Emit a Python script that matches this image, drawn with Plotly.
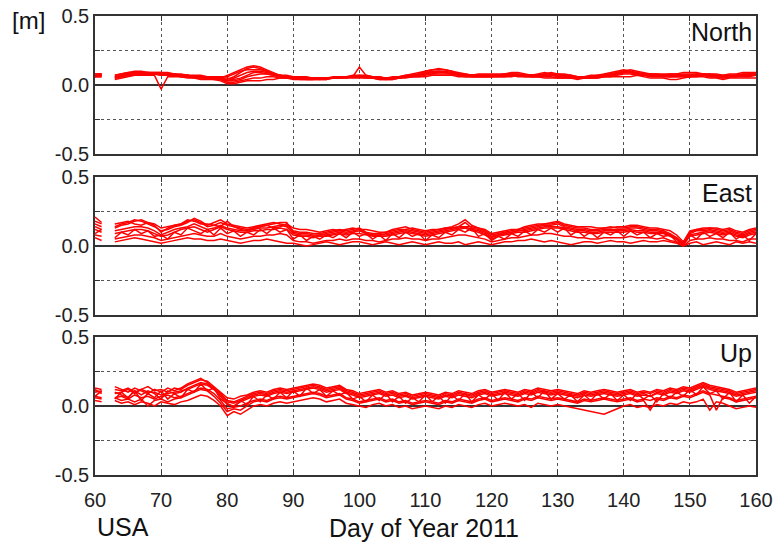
import plotly.graph_objects as go
from plotly.subplots import make_subplots

N = None
# Day of year 2011 (day 62 missing)
days = list(range(60, 161))

# Displacements in cm, one list per station, days 60..160
north = [
    [8,8,N,6,7,8,9,9,9,8, 7,8,8,7,7,6,6,6,5,5, 4,6,9,12,13,12,10,8,7,6, 6,5,5,5,4,5,5,6,6,6,
     7,6,6,5,5,5,6,7,7,8, 10,11,12,11,10,8,7,7,7,7, 7,7,8,8,7,7,7,8,9,8, 7,6,6,6,6,7,7,8,9,10,
     11,10,9,8,8,7,7,8,8,7, 7,8,8,7,6,6,7,7,8,8, 8],
    [6,6,N,4,5,6,7,7,7,7, -3,6,6,6,5,5,4,4,4,3, 1,1,2,3,3,3,4,4,5,5, 5,4,4,4,4,4,5,5,5,5,
     5,5,5,4,4,5,5,6,6,6, 6,7,7,7,7,6,6,6,6,6, 6,6,6,7,6,6,6,6,6,6, 5,5,5,5,5,5,5,6,6,6,
     6,6,7,6,5,5,5,4,4,5, 6,6,6,5,5,4,5,5,5,5, 5],
    [7,8,N,7,8,9,9,9,9,9, 9,8,8,7,7,6,6,5,5,5, 7,9,11,13,14,13,11,9,7,6, 5,5,5,5,5,5,6,6,6,6,
     13,7,6,6,5,5,6,6,7,8, 9,10,10,10,9,8,8,7,7,7, 7,7,8,9,9,8,7,7,8,8, 8,8,7,6,6,6,6,7,8,9,
     10,11,10,9,8,8,8,8,8,9, 9,9,8,8,8,7,8,8,9,9, 9],
    [6,7,N,5,6,7,7,8,8,8, 8,7,7,6,6,6,5,5,4,4, 3,3,4,6,7,8,8,7,6,5, 5,5,4,4,4,4,5,5,5,6,
     6,6,5,5,4,4,5,5,6,6, 7,8,8,8,8,7,6,6,6,6, 6,6,6,6,7,7,6,6,5,5, 5,5,5,4,5,5,5,6,6,7,
     8,8,7,7,6,6,6,6,6,6, 6,7,7,6,6,5,6,6,6,6, 7],
    [7,7,N,5,7,8,8,8,9,8, 8,8,7,7,7,6,6,5,5,4, 2,2,3,4,5,5,6,6,5,5, 4,4,4,4,5,5,5,5,6,6,
     6,5,5,4,4,4,5,6,6,7, 8,9,9,9,8,7,7,6,6,6, 6,7,7,7,7,6,6,6,7,7, 6,6,5,5,5,5,6,6,7,8,
     9,9,8,7,7,7,6,6,7,7, 7,7,7,7,7,6,6,7,7,8, 8],
    [8,8,N,7,8,9,10,10,9,9, 9,9,8,8,7,7,7,6,6,6, 6,8,10,11,11,11,10,8,7,7, 6,6,6,5,5,5,5,6,6,7,
     7,7,6,6,5,6,6,7,8,9, 10,11,11,11,10,9,8,7,8,8, 8,8,8,8,8,7,7,7,8,9, 8,7,7,6,6,6,7,7,8,9,
     10,10,9,8,8,8,7,7,7,8, 8,8,8,8,7,7,7,7,8,8, 8],
    [6,6,N,5,6,7,7,7,8,8, 7,7,7,6,6,5,5,5,5,5, 5,4,5,7,9,9,8,7,6,6, 5,5,5,5,5,5,5,5,6,6,
     6,6,6,5,5,5,5,6,7,7, 9,9,10,9,8,8,7,7,7,7, 7,7,7,7,7,7,7,7,7,7, 7,6,6,6,5,6,6,7,7,8,
     9,9,8,8,7,7,7,7,7,7, 7,7,7,7,6,6,6,7,7,7, 7],
    [7,7,N,6,7,8,8,8,8,8, 8,8,7,7,6,6,6,5,5,5, 3,5,7,9,10,10,9,8,7,6, 6,5,5,5,5,5,5,6,6,6,
     6,6,6,5,5,5,6,6,7,7, 8,8,9,9,8,8,7,7,7,7, 7,7,7,8,8,7,7,7,7,7, 7,7,6,6,6,6,6,7,7,8,
     9,9,8,7,7,7,7,6,6,6, 6,6,7,6,6,6,6,6,7,7, 7],
]

east = [
    [18,16,N,14,16,17,19,18,16,14, 11,12,14,15,17,20,18,15,17,19, 16,15,14,13,14,15,16,17,16,15,
     11,10,10,9,9,10,11,12,11,12, 13,10,9,9,10,12,13,14,12,11, 10,11,12,13,14,16,19,15,13,11,
     8,9,10,11,12,13,14,15,16,16, 17,15,14,13,13,12,12,13,14,13, 13,14,14,13,12,12,11,9,6,2,
     10,12,12,13,12,11,12,10,9,11, 12],
    [6,4,N,3,4,5,6,5,4,3, 2,3,4,5,6,5,5,4,4,5, 4,3,2,3,4,4,5,4,3,2, 2,1,0,1,2,3,2,1,2,3,
     3,2,1,2,3,2,1,2,3,2, 1,2,3,2,2,3,1,2,3,2, 1,2,3,3,4,4,5,4,3,4, 3,2,1,2,3,3,2,3,4,3,
     3,2,3,4,3,3,4,3,2,0, 2,3,1,2,3,2,1,3,2,3, 2],
    [14,12,N,11,12,13,14,14,13,11, 8,10,12,13,14,16,14,12,13,15, 13,12,11,11,12,13,13,14,15,14,
     9,8,8,7,8,8,9,10,9,10, 11,9,8,8,8,9,10,11,10,9, 8,9,10,11,12,13,14,12,11,9,
     6,8,9,10,11,11,12,13,14,14, 14,13,12,11,11,10,10,11,11,11, 11,12,11,11,10,10,10,8,5,1,
     8,9,10,11,10,9,10,8,7,9, 10],
    [9,12,N,6,10,8,12,9,11,7, 8,5,10,8,13,11,9,12,8,13, 9,11,7,10,8,12,9,13,10,12,
     5,8,4,7,5,8,6,9,6,10, 7,9,5,8,4,9,6,10,7,9, 4,8,6,10,8,12,10,13,7,9,
     4,7,5,9,7,11,8,12,10,13, 10,13,8,11,7,10,6,10,8,11, 7,11,8,10,6,9,7,8,3,2,
     8,5,10,7,9,6,10,5,8,4, 9],
    [21,17,N,16,17,18,16,15,17,16, 13,14,15,16,19,18,16,16,15,14, 18,14,12,11,13,14,15,13,14,16,
     13,12,12,11,10,11,12,11,12,13, 12,12,11,10,10,11,12,12,13,12, 11,12,12,13,13,14,14,14,13,12,
     9,10,11,12,12,14,15,16,16,17, 18,16,15,14,14,14,13,13,13,14, 14,15,15,14,13,13,12,11,8,3,
     11,12,13,13,13,12,13,11,10,12, 13],
    [8,7,N,5,6,7,8,8,7,6, 4,5,6,7,8,9,8,7,7,9, 7,6,5,6,7,7,8,8,9,8, 4,3,3,2,3,4,4,5,4,5,
     5,4,4,3,4,5,5,6,5,5, 4,5,5,6,7,8,8,7,6,5, 3,4,5,6,6,7,8,8,9,9, 8,7,7,6,6,5,5,6,6,6,
     6,7,6,6,6,5,6,4,3,0, 4,5,5,6,5,5,4,4,3,5, 5],
    [12,10,N,9,10,11,12,12,11,9, 7,8,10,12,13,14,12,10,12,14, 12,11,10,10,11,11,12,12,13,12,
     8,7,7,6,7,7,8,9,8,9, 9,8,7,7,7,8,9,10,9,8, 7,8,9,10,11,12,13,11,10,8,
     5,7,8,9,10,10,11,12,13,13, 13,12,11,10,10,9,9,10,10,10, 10,11,10,10,9,9,9,7,5,1,
     7,8,9,10,9,8,9,7,6,8, 9],
    [16,14,N,13,15,16,18,19,17,15, 10,13,15,16,18,19,17,14,15,17, 15,14,13,12,13,14,15,16,17,17,
     10,9,9,8,8,9,10,11,10,11, 12,9,8,8,9,10,11,12,11,10, 9,10,11,12,13,14,17,13,12,10,
     7,8,9,10,11,12,13,14,15,15, 16,14,13,12,12,11,11,12,12,12, 12,13,13,12,11,11,10,8,5,1,
     9,11,11,12,11,10,11,9,8,10, 11],
]

up = [
    [13,12,N,12,11,13,10,12,14,11, 12,10,13,12,15,17,19,18,14,10, 6,5,7,8,10,11,10,12,13,12,
     13,14,15,16,15,13,14,15,12,11, 9,10,11,12,10,11,9,10,8,9, 10,9,8,10,9,11,10,9,11,12,
     10,11,12,11,10,12,11,13,12,11, 12,11,10,9,11,10,11,12,11,10, 11,12,10,11,10,12,11,13,12,14,
     13,15,17,15,14,13,12,10,11,12, 13],
    [4,3,N,4,2,3,1,3,2,0, 3,2,1,3,4,6,8,7,4,0, -7,-4,-6,-3,0,1,0,2,3,2, 3,4,5,6,5,3,4,5,2,1,
     0,-1,1,2,0,1,-1,0,-2,-1, 0,-1,-2,0,-1,1,0,-1,1,2, 0,1,2,1,0,1,-1,2,1,0,
     1,0,-1,-2,-3,-4,-5,-6,-4,-2, 0,1,-1,0,-1,1,0,2,1,3, 2,3,5,-3,3,2,0,-2,-1,0, -1],
    [7,11,N,5,10,6,11,4,9,6, 11,5,9,6,12,10,16,11,13,5, 2,-1,4,1,7,3,8,5,10,6, 11,7,13,9,12,7,11,8,10,5,
     7,3,8,4,9,3,7,2,6,3, 8,3,7,2,8,4,9,3,8,5, 9,4,10,5,9,4,10,6,11,5,
     9,5,8,3,8,4,9,5,9,4, 8,4,9,5,8,3,9,6,10,7, 12,8,14,9,11,5,10,3,8,2, 7],
    [11,10,N,10,8,6,11,8,11,9, 5,11,9,10,13,15,17,16,12,8, 3,2,4,6,8,9,8,10,11,10, 11,12,13,14,13,11,12,13,10,9,
     7,8,9,10,8,9,7,8,6,7, 8,7,6,8,7,9,8,7,9,10, 8,9,10,9,8,10,9,11,10,9,
     10,9,8,7,9,8,9,10,9,8, 9,10,8,9,7,10,9,11,10,12, 11,13,15,13,12,11,10,8,9,10, 11],
    [6,5,N,6,4,5,3,5,0,4, 5,3,5,6,8,10,12,11,7,2, -4,-2,-3,0,3,4,3,5,6,5, 6,7,8,9,8,6,7,8,5,4,
     2,3,4,5,3,4,2,3,1,2, 3,2,1,3,2,4,3,2,4,5, 3,4,5,4,3,5,4,6,5,4,
     5,4,3,2,4,3,4,5,4,3, 4,5,3,4,-3,5,4,6,5,7, 6,8,10,8,-3,6,5,3,4,5, 6],
    [12,9,N,14,12,10,13,11,9,12, 10,13,11,13,16,18,20,17,13,9, 4,3,5,7,9,10,9,11,12,11, 12,13,14,15,14,12,13,14,11,10,
     8,9,10,11,9,10,8,9,7,8, 9,8,7,9,8,10,9,8,10,11, 9,10,11,10,9,11,10,12,11,10,
     11,10,9,8,10,9,10,11,10,9, 10,11,9,10,9,11,10,12,11,13, 12,14,16,14,13,12,11,9,10,11, 12],
    [7,6,N,6,7,5,8,6,7,5, 7,8,6,7,9,11,13,12,9,4, -2,-1,0,2,4,5,4,6,7,6, 7,8,9,10,9,7,8,9,6,5,
     3,4,5,6,4,5,3,4,2,3, 4,3,2,4,3,5,4,3,5,6, 4,5,6,5,4,6,5,7,6,5,
     6,5,4,3,5,4,5,6,5,4, 5,6,4,5,4,6,5,7,6,8, 7,9,11,9,8,7,6,4,5,6, 7],
    [10,11,N,9,10,12,9,12,10,10, 8,9,10,11,12,14,16,15,12,7, 1,0,3,5,7,8,7,9,10,9, 10,11,12,13,12,10,11,12,9,8,
     6,7,8,9,7,8,6,7,5,6, 7,6,5,7,6,8,7,6,8,9, 7,8,9,8,7,9,8,10,9,8,
     9,8,7,6,8,7,8,9,8,7, 8,9,7,8,7,9,8,10,9,11, 10,12,14,12,11,10,9,7,8,9, 10],
]

panel_names = ["North", "East", "Up"]
y_ticks = [-0.5, -0.25, 0.0, 0.25, 0.5]
y_labels = ["-0.5", "", "0.0", "", "0.5"]
x_ticks = [60, 70, 80, 90, 100, 110, 120, 130, 140, 150, 160]

FONT = "Arial, Liberation Sans, Helvetica, sans-serif"

fig = make_subplots(rows=3, cols=1, shared_xaxes=False, vertical_spacing=0.05)

for r, comp in enumerate([north, east, up], start=1):
    for s in comp:
        yv = [None if v is None else v / 100.0 for v in s]
        fig.add_trace(go.Scatter(x=days, y=yv, mode="lines",
                                 line=dict(color="#ff0000", width=1.5),
                                 connectgaps=False, showlegend=False,
                                 hoverinfo="skip"), row=r, col=1)

# domains in paper coordinates
domains = [[0.6993, 1.0], [0.3486, 0.6492], [0.0, 0.3007]]
for r in range(1, 4):
    fig.update_yaxes(row=r, col=1, domain=domains[r - 1], range=[-0.5, 0.5],
                     automargin=False,
                     tickvals=y_ticks, ticktext=y_labels,
                     showline=True, linecolor="#333333", linewidth=1.5, mirror="ticks",
                     ticks="inside", ticklen=5, tickcolor="#333333",
                     showgrid=True, gridcolor="#555555", griddash="dot", gridwidth=1,
                     zeroline=True, zerolinecolor="#333333", zerolinewidth=1.5,
                     tickfont=dict(family=FONT, size=20, color="#222222"))
    fig.update_xaxes(row=r, col=1, range=[60, 160], tickvals=x_ticks,
                     automargin=False,
                     showticklabels=(r == 3),
                     showline=True, linecolor="#333333", linewidth=1.5, mirror="ticks",
                     ticks="inside", ticklen=5, tickcolor="#333333",
                     showgrid=True, gridcolor="#555555", griddash="dot", gridwidth=1,
                     zeroline=False,
                     tickfont=dict(family=FONT, size=20, color="#222222"))
fig.update_xaxes(row=3, col=1, ticklabelstandoff=6)

annotations = []
for r, name in enumerate(panel_names, start=1):
    sfx = "" if r == 1 else str(r)
    annotations.append(dict(text=name, xref=f"x{sfx} domain", yref=f"y{sfx} domain",
                            x=0.997, y=1.0, xanchor="right", yanchor="top",
                            showarrow=False,
                            font=dict(family=FONT, size=25, color="#111111")))
annotations.append(dict(text="[m]", xref="paper", yref="paper", x=-0.128, y=0.99,
                        xanchor="left", yanchor="middle", showarrow=False,
                        font=dict(family=FONT, size=24, color="#111111")))
annotations.append(dict(text="USA", xref="paper", yref="paper", x=0.0, y=-0.113,
                        xanchor="left", yanchor="middle", showarrow=False,
                        font=dict(family=FONT, size=25, color="#111111")))
annotations.append(dict(text="Day of Year 2011", xref="paper", yref="paper", x=0.498, y=-0.115,
                        xanchor="center", yanchor="middle", showarrow=False,
                        font=dict(family=FONT, size=25, color="#111111")))

fig.update_layout(width=775, height=543,
                  margin=dict(l=95, r=19, t=16, b=68, autoexpand=False),
                  paper_bgcolor="white", plot_bgcolor="white",
                  annotations=annotations, showlegend=False)

fig.write_html("out.html", config={"displayModeBar": False},
               post_script="document.body.style.margin='0';document.body.style.overflow='hidden';")
